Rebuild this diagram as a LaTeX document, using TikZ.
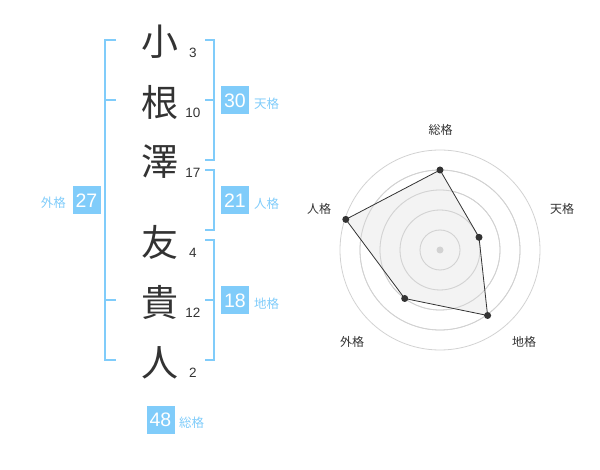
\documentclass[tikz,border=0pt]{standalone}
\usepackage{fontspec}
\setmainfont{Liberation Sans}
\newfontfamily\cjk{Noto Sans CJK JP}
\definecolor{kblue}{RGB}{128,204,250}
\definecolor{kdark}{RGB}{51,51,51}
\definecolor{kgrid}{RGB}{210,210,210}
\definecolor{kfill}{RGB}{240,240,240}
\tikzset{
  kanji/.style={font=\cjk\fontsize{37}{37}\selectfont, text=kdark, inner sep=0pt},
  strokes/.style={font=\fontsize{13.5}{14}\selectfont, text=kdark, inner sep=0pt},
  bracket/.style={draw=kblue, line width=1.6pt},
  valbox/.style={fill=kblue, text=white, minimum width=28pt, minimum height=28pt, inner sep=0pt, font=\fontsize{19.5}{20}\selectfont},
  vallabel/.style={text=kblue, font=\cjk\fontsize{12.5}{13}\selectfont, inner sep=0pt},
  axlabel/.style={text=kdark, font=\cjk\fontsize{12}{13}\selectfont, inner sep=0pt},
  ring/.style={draw=kgrid, line width=0.8pt},
  dot/.style={circle, fill=kdark, minimum size=7pt, inner sep=0pt}
}
\begin{document}
\begin{tikzpicture}[x=1pt,y=-1pt]
\useasboundingbox (0,0) rectangle (600,470);
% characters
\node[kanji] (c1) at (160,42) {小};
\node[kanji] (c2) at (160,102) {根};
\node[kanji] (c3) at (160,162) {澤};
\node[kanji] (c4) at (160,242) {友};
\node[kanji] (c5) at (160,302) {貴};
\node[kanji] (c6) at (160,363) {人};
\node[strokes] (n1) at (193,53) {3};
\node[strokes] (n2) at (193,113) {10};
\node[strokes] (n3) at (193,173) {17};
\node[strokes] (n4) at (193,253) {4};
\node[strokes] (n5) at (193,313) {12};
\node[strokes] (n6) at (193,373) {2};
% left bracket (gaikaku)
\coordinate (la) at (105,40);
\coordinate (lb) at (105,360);
\draw[bracket] (116,40) -- (la) -- (lb) -- (116,360);
\draw[bracket] (105,100) -- (116,100);
\draw[bracket] (105,300) -- (116,300);
\node[valbox] (b27) at (86.5,200.5) {27};
\node[vallabel, anchor=east] (l27) at (66,203) {外格};
% tenkaku bracket
\draw[bracket] (205,40) -- (214,40) -- (214,160) -- (205,160);
\draw[bracket] (205,100) -- (214,100);
\node[valbox] (b30) at (235,100.5) {30};
\node[vallabel, anchor=west] (l30) at (254,104) {天格};
% jinkaku bracket
\draw[bracket] (205,170) -- (214,170) -- (214,230) -- (205,230);
\node[valbox] (b21) at (235,200.5) {21};
\node[vallabel, anchor=west] (l21) at (254,204) {人格};
% chikaku bracket
\draw[bracket] (205,240) -- (214,240) -- (214,360) -- (205,360);
\draw[bracket] (205,300) -- (214,300);
\node[valbox] (b18) at (235,300.5) {18};
\node[vallabel, anchor=west] (l18) at (254,304) {地格};
% soukaku
\node[valbox] (b48) at (160.5,419.5) {48};
\node[vallabel, anchor=west] (l48) at (179,423) {総格};
% radar
\coordinate (ctr) at (440,250);
\foreach \r in {20,40,60,80,100} \draw[ring] (ctr) circle (\r);
\coordinate (p1) at (440,170);
\coordinate (p2) at (479,237.3);
\coordinate (p3) at (487.6,315.5);
\coordinate (p4) at (404.7,298.5);
\coordinate (p5) at (345.8,219.4);
\fill[kfill, opacity=0.8] (p1) -- (p2) -- (p3) -- (p4) -- (p5) -- cycle;
\foreach \r in {20,40,60,80} \draw[ring] (ctr) circle (\r);
\draw[kdark, line width=0.8pt] (p1) -- (p2) -- (p3) -- (p4) -- (p5) -- cycle;
\node[circle, fill=kgrid, minimum size=7pt, inner sep=0pt] (cdot) at (ctr) {};
\foreach \p in {p1,p2,p3,p4,p5} \node[dot] at (\p) {};
\node[axlabel] (a1) at (440.5,130) {総格};
\node[axlabel] (a2) at (562,209) {天格};
\node[axlabel] (a3) at (524,342) {地格};
\node[axlabel] (a4) at (352,342) {外格};
\node[axlabel] (a5) at (319,209) {人格};
\end{tikzpicture}
\end{document}
